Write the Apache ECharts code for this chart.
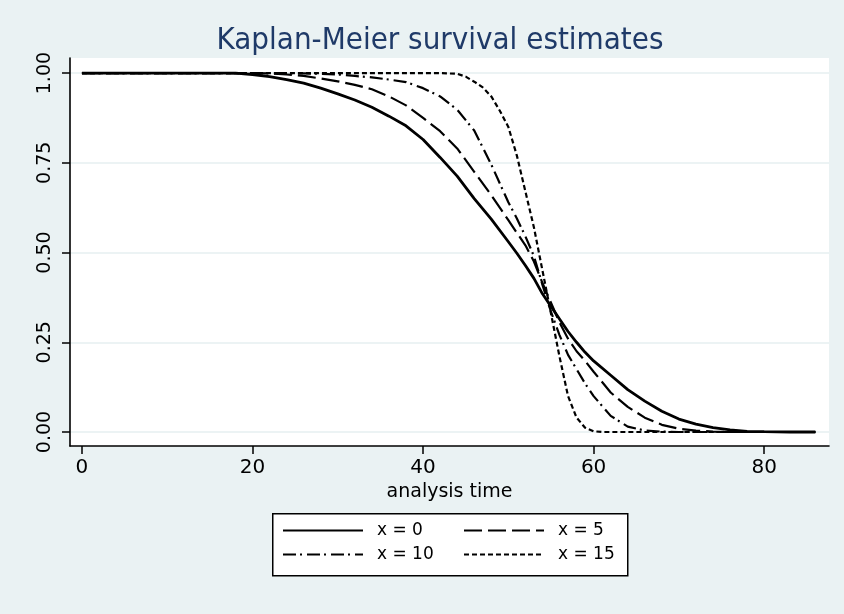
<!DOCTYPE html>
<html><head><meta charset="utf-8">
<script src="https://cdn.jsdelivr.net/npm/echarts@6/dist/echarts.min.js"></script>
<style>html,body{margin:0;padding:0;background:#eaf2f3}#c{width:844px;height:614px}</style>
</head><body><div id="c"></div>
<script>
const titleText = 'Kaplan-Meier survival estimates';
const xAxisName = 'analysis time';
const xTicks = [0, 20, 40, 60, 80];
const yTicks = [0, 0.25, 0.5, 0.75, 1];
const seriesNames = ['x = 0', 'x = 5', 'x = 10', 'x = 15'];

const time0 = [0,10,18,20,22,24,26,28,30,32,34,36,38,40,42,44,46,48,50,51,52,53,54,55,56,57,58,59,60,62,64,66,68,70,72,74,76,78,80,83,86];
const surv0 = [1,1,1,0.996,0.99,0.982,0.972,0.958,0.942,0.925,0.905,0.88,0.853,0.815,0.765,0.713,0.65,0.593,0.53,0.498,0.464,0.428,0.385,0.35,0.315,0.28,0.25,0.222,0.198,0.158,0.118,0.086,0.058,0.036,0.022,0.012,0.006,0.002,0.001,0,0];

const time5 = [0,18,20,22,24,26,28,30,32,34,36,38,40,42,44,46,48,50,51,52,53,54,55,56,57,58,59,60,62,64,66,68,70,72,74,76,80,86];
const surv5 = [1,1,1,0.999,0.996,0.992,0.985,0.977,0.967,0.955,0.935,0.91,0.875,0.838,0.79,0.725,0.66,0.59,0.555,0.52,0.475,0.415,0.36,0.305,0.26,0.225,0.198,0.168,0.11,0.07,0.04,0.02,0.009,0.004,0.001,0,0,0];

const time10 = [0,24,26,28,30,32,34,36,38,40,42,44,46,48,50,51,52,53,54,55,56,57,58,59,60,62,64,66,68,70,86];
const surv10 = [1,1,0.999,0.998,0.996,0.992,0.988,0.982,0.975,0.958,0.935,0.898,0.84,0.745,0.64,0.595,0.545,0.49,0.41,0.335,0.27,0.215,0.175,0.135,0.1,0.045,0.015,0.004,0.001,0,0];

const time15 = [0,42,44,45,46,47,48,49,50,51,52,53,54,55,56,57,58,59,60,61,86];
const surv15 = [1,1,0.998,0.99,0.976,0.96,0.935,0.895,0.85,0.77,0.67,0.57,0.45,0.33,0.21,0.10,0.04,0.012,0.002,0,0];

const pair = (ts, ss) => ts.map((t, i) => [t, ss[i]]);
const condensed = "'DejaVu Sans Condensed', 'DejaVu Sans', sans-serif";
const plain = "'DejaVu Sans', Verdana, sans-serif";

const styles = [
  { width: 2.8, type: 'solid' },
  { width: 2.2, type: [18, 6] },
  { width: 2.2, type: [13, 4, 2, 5] },
  { width: 2.2, type: [5, 3] }
];
const dataSets = [pair(time0, surv0), pair(time5, surv5), pair(time10, surv10), pair(time15, surv15)];

const series = seriesNames.map((n, i) => ({
  name: n, type: 'line', data: dataSets[i], symbol: 'none', showSymbol: false,
  lineStyle: { color: '#000', width: styles[i].width, type: styles[i].type },
  itemStyle: { color: '#000' }
}));

const legendPos = [[282, 522], [463, 522], [282, 546], [463, 546]];
const legends = seriesNames.map((n, i) => ({
  data: [n], left: legendPos[i][0], top: legendPos[i][1], padding: 0,
  itemWidth: 80, itemHeight: 14, selectedMode: false, z: 10,
  itemStyle: { opacity: 0 },
  lineStyle: { width: 2 },
  textStyle: { fontSize: 17, color: '#000', fontFamily: plain, padding: [0, 0, 0, 9] }
}));

const option = {
  backgroundColor: '#eaf2f3',
  animation: false,
  title: { text: titleText, left: 435, top: 20, textAlign: 'center',
    textStyle: { color: '#1f3a68', fontSize: 31, fontWeight: 'normal', fontFamily: condensed } },
  grid: { left: 70, right: 15, top: 58, bottom: 168, show: true, backgroundColor: '#ffffff', borderWidth: 0 },
  xAxis: {
    type: 'value', min: -1.4, max: 87.6,
    axisLine: { onZero: false, lineStyle: { color: '#000', width: 1.6 } },
    axisTick: { customValues: xTicks, length: 8, lineStyle: { color: '#000', width: 1.5 } },
    axisLabel: { customValues: xTicks, color: '#000', fontSize: 20, margin: 12, fontFamily: plain },
    splitLine: { show: false },
    name: xAxisName, nameLocation: 'middle', nameGap: 35,
    nameTextStyle: { color: '#000', fontSize: 19, fontFamily: plain }
  },
  yAxis: {
    type: 'value', min: -0.039, max: 1.042,
    axisLine: { show: true, onZero: false, lineStyle: { color: '#000', width: 1.6 } },
    axisTick: { show: true, customValues: yTicks, length: 8, lineStyle: { color: '#000', width: 1.5 } },
    axisLabel: { customValues: yTicks, rotate: 90, color: '#000', fontSize: 19, margin: 15, fontFamily: plain,
      formatter: v => Number(v).toFixed(2) },
    splitLine: { show: true, lineStyle: { color: '#e6eff0', width: 1.5 } }
  },
  legend: legends,
  graphic: [{ type: 'rect', left: 272, top: 513, z: 1,
    shape: { width: 355, height: 62 },
    style: { fill: '#ffffff', stroke: '#000', lineWidth: 1.5 } }],
  series: series
};
const chart = echarts.init(document.getElementById('c'));
chart.setOption(option);
</script>
</body></html>
